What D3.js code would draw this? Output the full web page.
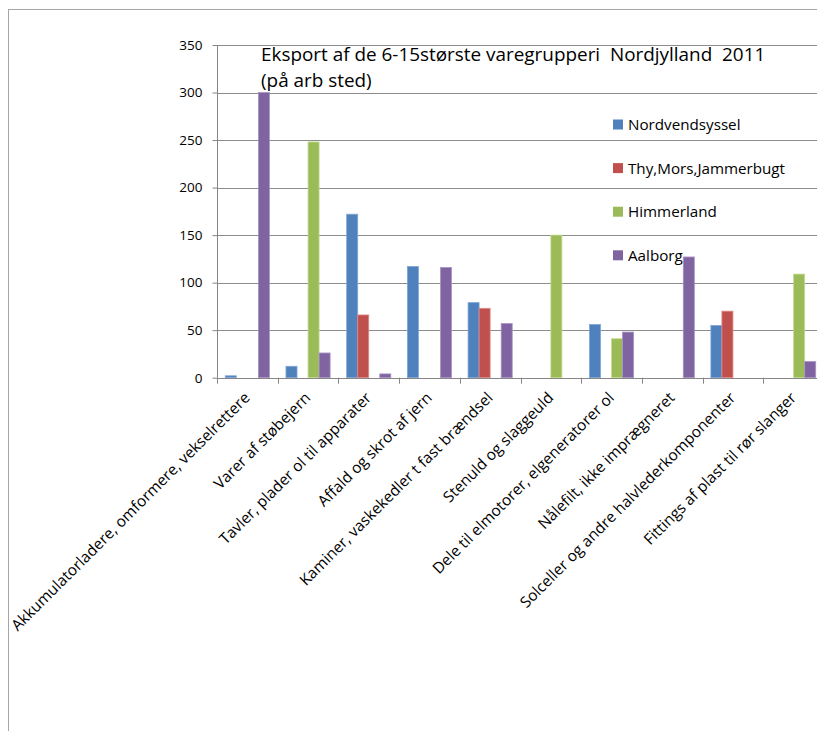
<!DOCTYPE html>
<html><head><meta charset="utf-8">
<script src="https://cdn.jsdelivr.net/npm/d3@7"></script>
<style>body{margin:0;background:#fff}svg{display:block}</style>
</head><body>
<svg id="c" width="817" height="731"></svg>
<script>
const categories = [
  "Akkumulatorladere, omformere, vekselrettere",
  "Varer af støbejern",
  "Tavler, plader ol til apparater",
  "Affald og skrot af jern",
  "Kaminer, vaskekedler t fast brændsel",
  "Stenuld og slaggeuld",
  "Dele til elmotorer, elgeneratorer ol",
  "Nålefilt, ikke imprægneret",
  "Solceller og andre halvlederkomponenter",
  "Fittings af plast til rør slanger"
];
const seriesNames = ["Nordvendsyssel", "Thy,Mors,Jammerbugt", "Himmerland", "Aalborg"];
const nordvendsyssel = [2, 12, 172, 117, 79, 0, 56, 0, 55, 0];
const thyMorsJammerbugt = [0, 0, 66, 0, 73, 0, 0, 0, 70, 0];
const himmerland = [0, 248, 0, 0, 0, 150, 41, 0, 0, 109];
const aalborg = [300, 26, 4, 116, 57, 0, 48, 127, 0, 17];
const yTicks = [0, 50, 100, 150, 200, 250, 300, 350];
const titleLines = ["Eksport af de 6-15største varegrupperi  Nordjylland  2011", "(på arb sted)"];

const seriesValues = [nordvendsyssel, thyMorsJammerbugt, himmerland, aalborg];
const colors = ["#4F81BD", "#C0504D", "#9BBB59", "#8064A2"];
const strokes = ["#7fa6d6", "#e08a88", "#c3dc8e", "#a894c4"];
const font = "'Open Sans', sans-serif";

const svg = d3.select("#c");
// chart area border
svg.append("rect").attr("x", 8.5).attr("y", 9.5).attr("width", 900).attr("height", 800)
  .attr("fill", "#fff").attr("stroke", "#a6a6a6").attr("stroke-width", 1);

const x0 = d3.scaleBand().domain(categories).range([217, 824]);
const x1 = d3.scaleBand().domain(d3.range(4)).range([0, x0.bandwidth()]).paddingOuter(0.75).paddingInner(0);
const y = d3.scaleLinear().domain([0, 350]).range([377.7, 45]);

// gridlines
svg.append("g").selectAll("line").data(yTicks.filter(d => d > 0)).join("line")
  .attr("x1", 217).attr("x2", 824)
  .attr("y1", d => Math.round(y(d)) + 0.5).attr("y2", d => Math.round(y(d)) + 0.5)
  .attr("stroke", "#8c8c8c").attr("stroke-width", 1);

// bars
const g = svg.append("g");
categories.forEach((c, i) => {
  seriesValues.forEach((vals, s) => {
    const v = vals[i];
    if (v <= 0) return;
    g.append("rect")
      .attr("x", x0(c) + x1(s)).attr("width", x1.bandwidth())
      .attr("y", y(v)).attr("height", y(0) - y(v))
      .attr("fill", colors[s]).attr("stroke", strokes[s]).attr("stroke-width", 0.8);
  });
});

// y axis
const yAxis = d3.axisLeft(y).tickValues(yTicks).tickSize(5).tickPadding(10);
const ya = svg.append("g").attr("transform", "translate(217.5,0)").call(yAxis);
ya.select(".domain").attr("stroke", "#868686").attr("d", `M0,${y(350)}V${y(0)}`);
ya.selectAll(".tick line").attr("stroke", "#868686");
ya.selectAll(".tick text").attr("font-family", font).attr("font-size", 13.5).attr("fill", "#000");

// x axis line and boundary ticks
const xa = svg.append("g");
xa.append("line").attr("x1", 217).attr("x2", 824).attr("y1", Math.round(y(0)) + 0.5).attr("y2", Math.round(y(0)) + 0.5)
  .attr("stroke", "#868686");
const bounds = categories.map(c => x0(c)).concat([x0.range()[1]]);
xa.selectAll("line.t").data(bounds).join("line").attr("class", "t")
  .attr("x1", d => Math.round(d) + 0.5).attr("x2", d => Math.round(d) + 0.5)
  .attr("y1", y(0)).attr("y2", y(0) + 6).attr("stroke", "#868686");

// category labels
xa.selectAll("text").data(categories).join("text")
  .attr("transform", d => `translate(${x0(d) + x0.bandwidth() / 2 + 3.5},${y(0) + 21}) rotate(-45)`)
  .attr("text-anchor", "end")
  .attr("font-family", font).attr("font-size", 15.4).attr("fill", "#000")
  .text(d => d);

// title
svg.append("g").selectAll("text").data(titleLines).join("text")
  .attr("x", 261).attr("y", (d, i) => 61 + i * 26)
  .attr("font-family", font).attr("font-size", 18.9).attr("fill", "#000")
  .style("white-space", "pre")
  .text(d => d);

// legend
const lg = svg.append("g");
seriesNames.forEach((n, i) => {
  const cy = 124.5 + i * 43.6;
  lg.append("rect").attr("x", 613).attr("y", cy - 5).attr("width", 10).attr("height", 10).attr("fill", colors[i]);
  lg.append("text").attr("x", 628).attr("y", cy + 5.5)
    .attr("font-family", font).attr("font-size", 15.2).attr("fill", "#000").text(n);
});
</script>
</body></html>
